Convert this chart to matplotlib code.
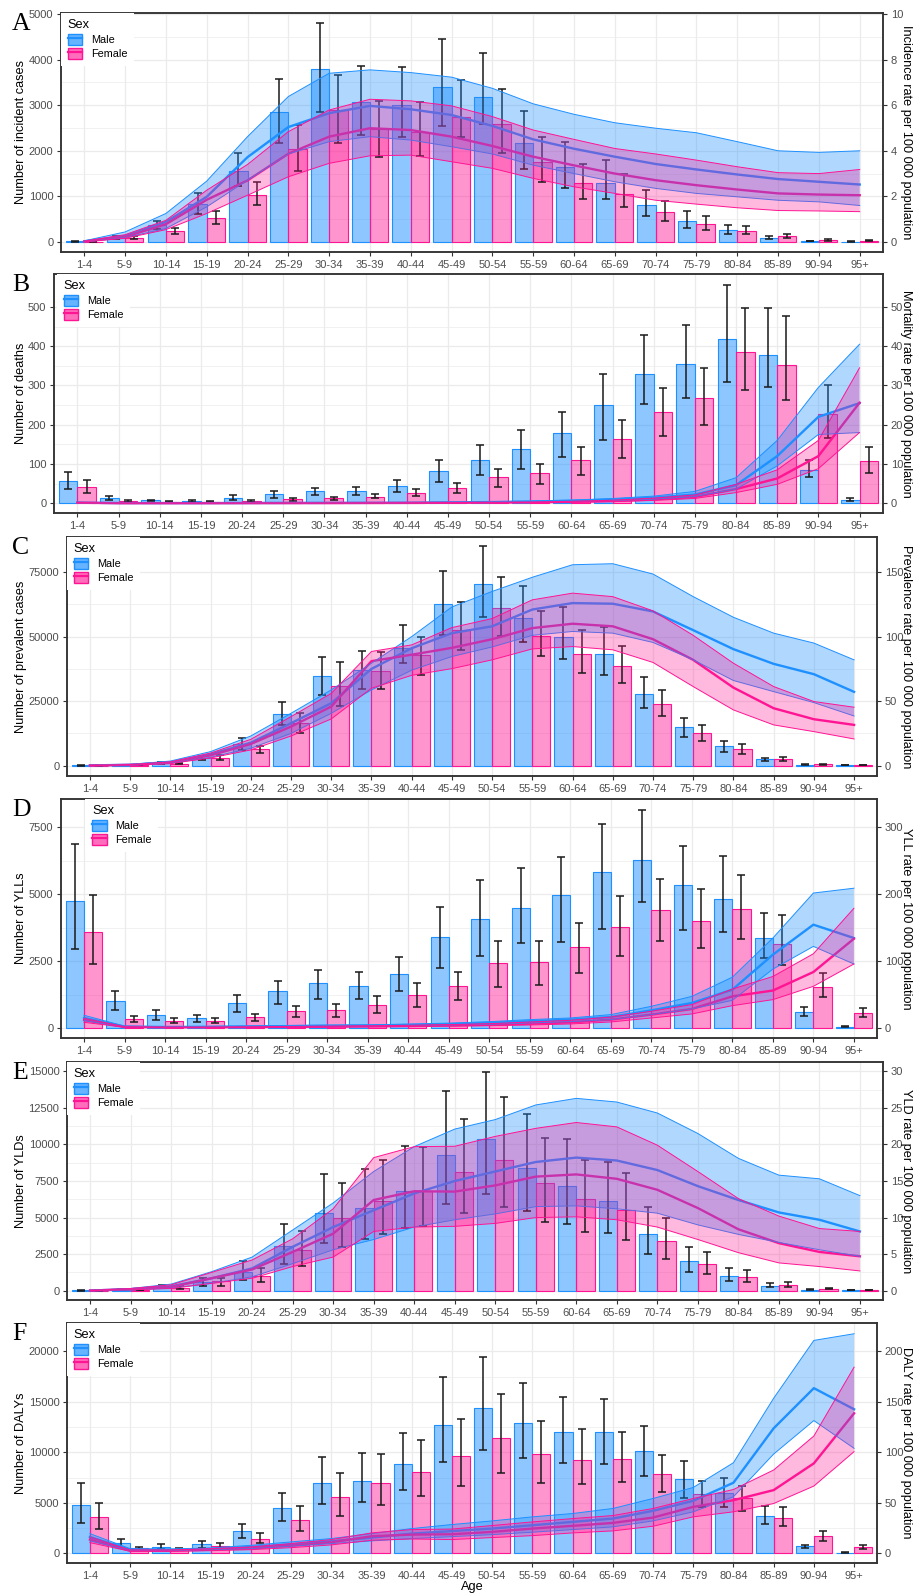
import matplotlib
matplotlib.use("Agg")
import matplotlib.pyplot as plt
from matplotlib.patches import Patch
from matplotlib.lines import Line2D
from matplotlib.legend_handler import HandlerTuple
import numpy as np

plt.rcParams['font.family'] = ['Liberation Sans', 'DejaVu Sans']

AGES = ['1-4', '5-9', '10-14', '15-19', '20-24', '25-29', '30-34', '35-39', '40-44', '45-49',
        '50-54', '55-59', '60-64', '65-69', '70-74', '75-79', '80-84', '85-89', '90-94', '95+']

# ---------------- A: incidence ----------------
inc_m = [15, 80, 370, 830, 1560, 2840, 3790, 3070, 3010, 3400, 3170, 2180, 1650, 1300, 800, 450, 255, 95, 22, 10]
inc_m_lo = [8, 55, 280, 620, 1220, 2170, 2860, 2340, 2310, 2540, 2580, 1590, 1180, 940, 560, 300, 170, 60, 15, 5]
inc_m_hi = [25, 120, 470, 1070, 1960, 3570, 4800, 3860, 3840, 4450, 4150, 2870, 2200, 1800, 1150, 680, 370, 140, 30, 15]
inc_f = [10, 90, 230, 530, 1040, 2040, 2900, 2480, 2420, 2740, 2590, 1760, 1300, 1060, 660, 390, 250, 130, 44, 25]
inc_f_lo = [5, 60, 165, 400, 810, 1560, 2180, 1870, 1880, 2300, 1960, 1310, 940, 770, 460, 270, 175, 80, 30, 18]
inc_f_hi = [15, 120, 310, 690, 1320, 2560, 3660, 3090, 3070, 3560, 3360, 2300, 1720, 1500, 900, 560, 350, 180, 60, 35]
inc_rate_m = [0.03, 0.26, 0.88, 1.98, 3.72, 5.04, 5.65, 5.97, 5.82, 5.57, 5.09, 4.5, 4.09, 3.74, 3.42, 3.18, 2.96, 2.76, 2.64, 2.52]
inc_rate_m_lo = [0.01, 0.19, 0.59, 1.54, 2.71, 3.86, 4.4, 4.62, 4.47, 4.18, 3.86, 3.37, 3.0, 2.64, 2.35, 2.13, 1.98, 1.83, 1.76, 1.6]
inc_rate_m_hi = [0.05, 0.44, 1.25, 2.67, 4.62, 6.38, 7.4, 7.55, 7.43, 7.23, 6.74, 6.06, 5.6, 5.23, 4.99, 4.79, 4.4, 4.0, 3.93, 4.0]
inc_rate_f = [0.02, 0.22, 0.78, 1.85, 2.7, 3.87, 4.62, 4.99, 4.91, 4.62, 4.21, 3.74, 3.36, 3.0, 2.71, 2.49, 2.3, 2.13, 2.08, 2.05]
inc_rate_f_lo = [0.01, 0.16, 0.54, 1.25, 2.05, 2.86, 3.45, 3.78, 3.81, 3.52, 3.23, 2.79, 2.42, 2.13, 1.83, 1.66, 1.5, 1.38, 1.36, 1.33]
inc_rate_f_hi = [0.04, 0.32, 0.95, 2.27, 3.4, 4.84, 5.79, 6.26, 6.19, 5.97, 5.5, 4.91, 4.5, 4.1, 3.86, 3.59, 3.3, 3.04, 3.0, 3.18]

# ---------------- B: deaths ----------------
death_m = [56, 12, 7, 6, 14, 23, 30, 31, 44, 82, 110, 138, 179, 250, 330, 355, 418, 378, 85, 9]
death_m_lo = [35, 8, 5, 4, 9, 14, 20, 21, 28, 54, 73, 87, 117, 160, 253, 267, 309, 297, 68, 6]
death_m_hi = [80, 18, 9, 8, 22, 30, 39, 42, 58, 109, 149, 186, 232, 328, 428, 453, 557, 497, 111, 14]
death_f = [42, 5, 4, 3.4, 6, 10, 12, 17, 27, 38, 67, 77, 110, 163, 232, 267, 385, 353, 226, 107]
death_f_lo = [26, 3, 3, 2.5, 4, 6, 8, 12, 18, 27, 42, 50, 73, 115, 170, 199, 289, 264, 166, 76]
death_f_hi = [58, 7, 6, 4.5, 8, 14, 16, 23, 36, 51, 88, 101, 143, 212, 294, 345, 497, 478, 300, 143]
mort_rate_m = [0.15, 0.03, 0.02, 0.02, 0.04, 0.06, 0.08, 0.09, 0.12, 0.2, 0.28, 0.4, 0.6, 0.9, 1.4, 2.2, 4.6, 12, 22, 25.5]
mort_rate_m_lo = [0.09, 0.02, 0.01, 0.01, 0.03, 0.04, 0.05, 0.06, 0.08, 0.14, 0.2, 0.28, 0.42, 0.65, 1.0, 1.7, 3.6, 9.5, 17.5, 18]
mort_rate_m_hi = [0.22, 0.05, 0.03, 0.03, 0.06, 0.08, 0.11, 0.12, 0.16, 0.27, 0.38, 0.55, 0.8, 1.2, 1.8, 3.0, 6.5, 16, 29.5, 40.5]
mort_rate_f = [0.12, 0.01, 0.01, 0.01, 0.02, 0.03, 0.03, 0.05, 0.07, 0.1, 0.18, 0.22, 0.35, 0.55, 0.95, 1.6, 3.6, 6.3, 12, 25.6]
mort_rate_f_lo = [0.07, 0.01, 0.005, 0.005, 0.01, 0.02, 0.02, 0.03, 0.05, 0.07, 0.12, 0.15, 0.24, 0.4, 0.7, 1.2, 2.7, 4.8, 8.8, 18]
mort_rate_f_hi = [0.18, 0.02, 0.015, 0.015, 0.03, 0.04, 0.05, 0.07, 0.1, 0.14, 0.25, 0.3, 0.47, 0.75, 1.3, 2.1, 4.8, 8.5, 16, 34.5]

# ---------------- C: prevalence ----------------
prev_m = [100, 300, 1100, 2900, 8400, 19900, 34700, 37000, 45500, 62600, 70400, 57200, 49800, 43300, 27900, 14900, 7500, 2460, 390, 130]
prev_m_lo = [60, 200, 800, 2300, 6100, 15800, 27400, 29800, 39900, 50700, 57600, 47900, 41300, 35300, 22200, 11300, 5400, 1810, 280, 90]
prev_m_hi = [150, 420, 1500, 3600, 10600, 24600, 42200, 44600, 54400, 75500, 85000, 69500, 61400, 53700, 34500, 18500, 9400, 3100, 500, 180]
prev_f = [50, 250, 780, 3000, 6300, 16700, 31000, 36800, 42700, 52600, 60900, 50300, 43200, 38700, 23900, 12500, 6300, 2500, 520, 130]
prev_f_lo = [30, 170, 560, 2200, 4800, 12500, 23300, 29800, 35000, 44900, 50300, 42500, 35800, 31900, 19400, 9700, 4500, 1800, 400, 100]
prev_f_hi = [80, 350, 1050, 4100, 7800, 20600, 40000, 43900, 50000, 63600, 73100, 60100, 52600, 46400, 29400, 15800, 8400, 3200, 660, 170]
prev_rate_m = [0.2, 0.7, 2.6, 8.8, 17.8, 32.9, 48.4, 75, 91, 102.7, 108, 121, 126, 125.5, 119.5, 105, 90.3, 78.9, 70.9, 57.2]
prev_rate_m_lo = [0.1, 0.5, 1.8, 6.5, 13.5, 25, 40.6, 58.7, 74, 84.6, 92, 101, 104, 102.7, 95.5, 82, 66, 57.4, 48.9, 38.5]
prev_rate_m_hi = [0.3, 1.0, 3.6, 10.9, 23, 40.6, 58.7, 79.4, 100, 123, 135, 146, 155.7, 156.5, 148.5, 131, 115, 102.7, 95, 82]
prev_rate_f = [0.15, 0.6, 2.3, 8.0, 16.8, 30.3, 45.8, 81, 86, 91.3, 98, 106.6, 110, 108, 98, 82, 60.5, 44.5, 36, 31.6]
prev_rate_f_lo = [0.1, 0.45, 1.6, 6.0, 12.2, 23, 36.2, 60, 70, 75.2, 82, 90.5, 92.3, 89.8, 80, 61.3, 43.2, 31.6, 26.4, 20.7]
prev_rate_f_hi = [0.25, 0.9, 3.0, 9.8, 20.4, 38, 56, 88.5, 93.6, 107, 114, 128.5, 133.7, 131, 120, 101, 79.4, 61.3, 49.7, 45.3]

# ---------------- D: YLLs ----------------
yll_m = [4730, 1000, 490, 360, 930, 1370, 1670, 1580, 2020, 3400, 4090, 4470, 4960, 5820, 6270, 5330, 4830, 3360, 600, 50]
yll_m_lo = [2960, 660, 310, 220, 610, 900, 1080, 1070, 1370, 2230, 2680, 3160, 3210, 3700, 4710, 3650, 3570, 2620, 460, 30]
yll_m_hi = [6890, 1370, 660, 500, 1230, 1770, 2170, 2100, 2650, 4530, 5540, 5980, 6390, 7640, 8160, 6820, 6430, 4300, 790, 70]
yll_f = [3590, 350, 270, 250, 400, 620, 670, 860, 1230, 1560, 2430, 2470, 3030, 3770, 4400, 4010, 4460, 3140, 1530, 550]
yll_f_lo = [2390, 240, 190, 175, 270, 400, 420, 560, 785, 1060, 1520, 1620, 2050, 2680, 3240, 2990, 3340, 2340, 1150, 410]
yll_f_hi = [4960, 460, 360, 360, 520, 830, 880, 1180, 1700, 2090, 3260, 3260, 3920, 4950, 5580, 5190, 5730, 4210, 2060, 750]
yll_rate_m = [15, 2.0, 1.5, 1.7, 2.2, 2.8, 3.3, 3.6, 4.5, 5.5, 7.5, 10, 12.5, 16.4, 26.4, 37.4, 57.3, 109.6, 154.5, 134.5]
yll_rate_m_lo = [11, 1.5, 1.1, 1.2, 1.6, 2.0, 2.4, 2.6, 3.2, 4.0, 5.5, 7.5, 9.5, 12.5, 20, 28.4, 41.4, 88, 122, 95.7]
yll_rate_m_hi = [19, 2.8, 2.0, 2.3, 3.0, 3.7, 4.3, 4.7, 5.9, 7.3, 9.5, 12.5, 15, 20, 32.4, 47.3, 76, 134.5, 201.8, 209]
yll_rate_f = [12, 1.5, 1.1, 1.1, 1.3, 1.7, 2.0, 2.5, 3.0, 3.8, 4.8, 6.5, 8.5, 12.5, 20, 28.4, 47.3, 56, 83.7, 133.5]
yll_rate_f_lo = [8.5, 1.1, 0.8, 0.8, 0.9, 1.2, 1.4, 1.8, 2.2, 2.8, 3.4, 4.5, 6, 9, 15, 21, 33.4, 42.4, 62.3, 95.7]
yll_rate_f_hi = [14.5, 2.0, 1.5, 1.5, 1.8, 2.3, 2.7, 3.3, 4.0, 5.0, 6.4, 9, 11.5, 16.4, 25, 35, 58.3, 77, 111, 179]

# ---------------- E: YLDs ----------------
yld_m = [20, 60, 270, 570, 1300, 3070, 5330, 5620, 6830, 9310, 10400, 8400, 7150, 6150, 3870, 2050, 1020, 340, 68, 23]
yld_m_lo = [10, 40, 180, 330, 750, 1840, 3230, 3500, 4260, 5960, 6600, 5440, 4550, 3920, 2480, 1300, 680, 230, 50, 15]
yld_m_hi = [30, 90, 380, 840, 2000, 4550, 8010, 8350, 9900, 13660, 14950, 12110, 10380, 8810, 5690, 3000, 1520, 500, 90, 30]
yld_f = [10, 40, 205, 680, 1000, 2780, 4940, 6150, 6830, 8130, 8970, 7330, 6240, 5510, 3410, 1800, 960, 390, 137, 46]
yld_f_lo = [5, 25, 140, 320, 615, 1680, 3000, 3900, 4420, 5280, 5690, 4710, 3980, 3460, 2160, 1115, 615, 230, 95, 30]
yld_f_hi = [15, 60, 290, 840, 1570, 4070, 7330, 8970, 9830, 11750, 13250, 10450, 8920, 8060, 4940, 2660, 1410, 570, 180, 60]
yld_rate_m = [0.02, 0.2, 0.6, 1.7, 3.05, 6.0, 8.7, 11.0, 13.3, 15.0, 16.3, 17.6, 18.2, 17.8, 16.5, 14.3, 12.4, 10.7, 9.7, 8.1]
yld_rate_m_lo = [0.01, 0.1, 0.35, 1.0, 1.9, 3.7, 5.6, 7.0, 8.7, 9.7, 10.5, 11.5, 11.6, 11.2, 10.6, 9.0, 7.7, 6.6, 5.6, 4.7]
yld_rate_m_hi = [0.04, 0.3, 0.9, 2.6, 4.6, 8.3, 12.0, 16.3, 19.7, 22.1, 23.4, 25.4, 26.3, 25.8, 24.3, 21.5, 18.1, 15.8, 15.3, 13.0]
yld_rate_f = [0.02, 0.2, 0.5, 1.7, 2.9, 5.3, 7.8, 12.4, 13.6, 13.55, 14.4, 15.6, 15.9, 15.3, 13.8, 11.3, 8.4, 6.5, 5.3, 4.7]
yld_rate_f_lo = [0.01, 0.12, 0.3, 1.0, 1.7, 3.3, 4.6, 8.1, 8.7, 8.8, 9.2, 10.0, 10.1, 9.7, 8.7, 7.0, 5.2, 3.8, 3.3, 2.7]
yld_rate_f_hi = [0.03, 0.3, 0.8, 2.5, 4.2, 7.1, 11.2, 18.2, 19.7, 19.75, 21.1, 22.2, 23.0, 22.4, 19.9, 16.3, 12.6, 10.2, 8.5, 8.1]

# ---------------- F: DALYs ----------------
daly_m = [4770, 1030, 630, 890, 2220, 4440, 6990, 7190, 8840, 12720, 14440, 12880, 12050, 11990, 10130, 7380, 5930, 3680, 700, 66]
daly_m_lo = [3010, 560, 400, 560, 1560, 3180, 4870, 5070, 6260, 9070, 10230, 9470, 8970, 8840, 7680, 5500, 4600, 2950, 530, 40]
daly_m_hi = [6920, 1460, 960, 1230, 2950, 5990, 9570, 9900, 11890, 17420, 19440, 16850, 15460, 15270, 12650, 9140, 7480, 4670, 860, 90]
daly_f = [3610, 500, 430, 760, 1460, 3340, 5600, 6990, 8080, 9670, 11390, 9800, 9240, 9300, 7820, 5830, 5430, 3510, 1690, 630]
daly_f_lo = [2420, 360, 330, 530, 1030, 2220, 3680, 4740, 5660, 6660, 7980, 6990, 6820, 7020, 6090, 4540, 4210, 2680, 1190, 430]
daly_f_hi = [5000, 630, 530, 1060, 2020, 4670, 7980, 9830, 11230, 13280, 15760, 13110, 12290, 12050, 9740, 7150, 6660, 4600, 2220, 800]
daly_rate_m = [16.2, 3.6, 3.3, 4.3, 6.3, 8.9, 11.9, 15.6, 19.5, 22.0, 24.5, 27.8, 31.1, 34.4, 42.1, 52.0, 69.9, 123.8, 163.6, 142.7]
daly_rate_m_lo = [12.3, 2.6, 2.6, 3.3, 4.6, 7.0, 9.6, 12.3, 14.6, 16.5, 18.5, 20.9, 23.5, 26.2, 32.1, 41.1, 56.0, 98.3, 131.5, 104]
daly_rate_m_hi = [19.5, 4.6, 4.3, 5.3, 7.9, 11.3, 14.6, 19.5, 24.5, 28.5, 32.1, 36.1, 39.4, 44.4, 54.3, 65.2, 89.7, 153.6, 210.9, 217.5]
daly_rate_f = [13.6, 2.6, 2.6, 3.6, 5.0, 7.6, 10.9, 16.9, 18.5, 18.9, 21.2, 24.5, 27.2, 30.1, 35.4, 46.0, 52.6, 62.6, 89.1, 138.7]
daly_rate_f_lo = [10.6, 2.0, 2.0, 2.6, 3.6, 5.6, 8.3, 12.9, 14.2, 13.6, 15.6, 17.5, 20.2, 22.2, 26.8, 36.1, 41.1, 49.3, 66.6, 100.7]
daly_rate_f_hi = [16.2, 3.3, 3.3, 4.6, 6.3, 9.6, 13.6, 20.2, 23.5, 24.0, 27.5, 31.1, 34.4, 37.4, 44.4, 54.3, 63.2, 82.5, 116.2, 184.4]

PANELS = [
    dict(letter='A', num=(inc_m, inc_m_lo, inc_m_hi, inc_f, inc_f_lo, inc_f_hi),
         rate=(inc_rate_m, inc_rate_m_lo, inc_rate_m_hi, inc_rate_f, inc_rate_f_lo, inc_rate_f_hi),
         ylabel='Number of incident cases', rlabel='Incidence rate per 100 000 population',
         ylim=(-220, 5022), yticks=[0, 1000, 2000, 3000, 4000, 5000], k=500,
         rticks=[0, 2, 4, 6, 8, 10], box=(61, 13, 883, 252), leg_dx=0.0),
    dict(letter='B', num=(death_m, death_m_lo, death_m_hi, death_f, death_f_lo, death_f_hi),
         rate=(mort_rate_m, mort_rate_m_lo, mort_rate_m_hi, mort_rate_f, mort_rate_f_lo, mort_rate_f_hi),
         ylabel='Number of deaths', rlabel='Mortality rate per 100 000 population',
         ylim=(-25, 584), yticks=[0, 100, 200, 300, 400, 500], k=10,
         rticks=[0, 10, 20, 30, 40, 50], box=(54, 274, 883, 513), leg_dx=0.004),
    dict(letter='C', num=(prev_m, prev_m_lo, prev_m_hi, prev_f, prev_f_lo, prev_f_hi),
         rate=(prev_rate_m, prev_rate_m_lo, prev_rate_m_hi, prev_rate_f, prev_rate_f_lo, prev_rate_f_hi),
         ylabel='Number of prevalent cases', rlabel='Prevalence rate per 100 000 population',
         ylim=(-4000, 88600), yticks=[0, 25000, 50000, 75000], k=500,
         rticks=[0, 50, 100, 150], box=(67, 537, 877, 776), leg_dx=0.0),
    dict(letter='D', num=(yll_m, yll_m_lo, yll_m_hi, yll_f, yll_f_lo, yll_f_hi),
         rate=(yll_rate_m, yll_rate_m_lo, yll_rate_m_hi, yll_rate_f, yll_rate_f_lo, yll_rate_f_hi),
         ylabel='Number of YLLs', rlabel='YLL rate per 100 000 population',
         ylim=(-374, 8560), yticks=[0, 2500, 5000, 7500], k=25,
         rticks=[0, 100, 200, 300], box=(61, 799, 877, 1038), leg_dx=0.03),
    dict(letter='E', num=(yld_m, yld_m_lo, yld_m_hi, yld_f, yld_f_lo, yld_f_hi),
         rate=(yld_rate_m, yld_rate_m_lo, yld_rate_m_hi, yld_rate_f, yld_rate_f_lo, yld_rate_f_hi),
         ylabel='Number of YLDs', rlabel='YLD rate per 100 000 population',
         ylim=(-637, 15637), yticks=[0, 2500, 5000, 7500, 10000, 12500, 15000], k=500,
         rticks=[0, 5, 10, 15, 20, 25, 30], box=(67, 1062, 883, 1300), leg_dx=0.0),
    dict(letter='F', num=(daly_m, daly_m_lo, daly_m_hi, daly_f, daly_f_lo, daly_f_hi),
         rate=(daly_rate_m, daly_rate_m_lo, daly_rate_m_hi, daly_rate_f, daly_rate_f_lo, daly_rate_f_hi),
         ylabel='Number of DALYs', rlabel='DALY rate per 100 000 population',
         ylim=(-960, 22815), yticks=[0, 5000, 10000, 15000, 20000], k=100,
         rticks=[0, 50, 100, 150, 200], box=(67, 1323, 877, 1563), leg_dx=0.0),
]

BLUE = '#1E90FF'
PINK = '#FF1493'
GRID = '#EBEBEB'
DARK = '#333333'
TICKC = '#4D4D4D'

W, H = 914, 1593
fig = plt.figure(figsize=(W / 100, H / 100), dpi=100)

x = np.arange(len(AGES))
bw = 0.45

for p in PANELS:
    l, t, r, b = p['box']
    ax = fig.add_axes([l / W, 1 - b / H, (r - l) / W, (b - t) / H])
    m, mlo, mhi, f, flo, fhi = [np.array(v, dtype=float) for v in p['num']]
    rm, rmlo, rmhi, rf, rflo, rfhi = [np.array(v, dtype=float) for v in p['rate']]

    ax.set_axisbelow(True)
    ax.bar(x - bw / 2, m, bw, color=BLUE, alpha=0.5, linewidth=0, zorder=2)
    ax.bar(x - bw / 2, m, bw, facecolor='none', edgecolor=BLUE, linewidth=0.8, zorder=2)
    ax.bar(x + bw / 2, f, bw, color=PINK, alpha=0.45, linewidth=0, zorder=2)
    ax.bar(x + bw / 2, f, bw, facecolor='none', edgecolor=PINK, linewidth=0.8, zorder=2)
    ax.errorbar(x - bw / 2, m, yerr=[m - mlo, mhi - m], fmt='none', ecolor='#1A1A1A',
                elinewidth=1.1, capsize=2.8, capthick=1.1, zorder=3)
    ax.errorbar(x + bw / 2, f, yerr=[f - flo, fhi - f], fmt='none', ecolor='#1A1A1A',
                elinewidth=1.1, capsize=2.8, capthick=1.1, zorder=3)

    ax.set_xlim(-0.57, len(AGES) - 1 + 0.57)
    ax.set_ylim(*p['ylim'])
    ax.set_xticks(x)
    ax.set_xticklabels(AGES)
    ax.set_yticks(p['yticks'])
    ax.set_yticklabels([str(v) for v in p['yticks']])
    yt = p['yticks']
    minors = [(yt[i] + yt[i + 1]) / 2 for i in range(len(yt) - 1)]
    ax.set_yticks(minors, minor=True)
    ax.grid(which='major', color=GRID, linewidth=0.9)
    ax.grid(which='minor', axis='y', color=GRID, linewidth=0.5)
    ax.tick_params(which='minor', length=0)
    ax.tick_params(which='major', length=3, width=0.8, color=DARK, labelsize=8,
                   labelcolor=TICKC, pad=2.5)

    ax2 = ax.twinx()
    k = p['k']
    ax2.set_ylim(p['ylim'][0] / k, p['ylim'][1] / k)
    ax2.set_yticks(p['rticks'])
    ax2.set_yticklabels([str(v) for v in p['rticks']])
    ax2.tick_params(which='major', length=3, width=0.8, color=DARK, labelsize=8,
                    labelcolor=TICKC, pad=2.5)
    # mean lines (under ribbons)
    ax2.plot(x, rm, color=BLUE, linewidth=1.7, zorder=2)
    ax2.plot(x, rf, color=PINK, linewidth=1.7, zorder=2)
    # male ribbon
    ax2.fill_between(x, rmlo, rmhi, facecolor=BLUE, alpha=0.35, linewidth=0, zorder=3)
    ax2.plot(x, rmlo, color=BLUE, linewidth=0.7, zorder=3)
    ax2.plot(x, rmhi, color=BLUE, linewidth=0.7, zorder=3)
    # female ribbon
    ax2.fill_between(x, rflo, rfhi, facecolor=PINK, alpha=0.3, linewidth=0, zorder=4)
    ax2.plot(x, rflo, color=PINK, linewidth=0.7, zorder=4)
    ax2.plot(x, rfhi, color=PINK, linewidth=0.7, zorder=4)

    for a in (ax, ax2):
        for s in a.spines.values():
            s.set_color(DARK)
            s.set_linewidth(1.1)

    hm = (Patch(facecolor=BLUE, alpha=0.5, edgecolor='none'),
          Patch(facecolor=BLUE, alpha=0.35, edgecolor='none'),
          Patch(facecolor='none', edgecolor=BLUE, linewidth=1.0),
          Line2D([0, 1], [0, 0], color=BLUE, linewidth=1.6))
    hf = (Patch(facecolor=PINK, alpha=0.45, edgecolor='none'),
          Patch(facecolor=PINK, alpha=0.3, edgecolor='none'),
          Patch(facecolor='none', edgecolor=PINK, linewidth=1.0),
          Line2D([0, 1], [0, 0], color=PINK, linewidth=1.6))
    leg = ax2.legend([hm, hf], ['Male', 'Female'], title='Sex',
                     handler_map={tuple: HandlerTuple(ndivide=1, pad=0)},
                     loc='upper left', bbox_to_anchor=(p['leg_dx'], 1.0), borderaxespad=0,
                     frameon=True, fancybox=False, facecolor='white', edgecolor='none',
                     framealpha=1.0, fontsize=7.8, title_fontsize=9.2,
                     handlelength=1.35, handleheight=1.3, labelspacing=0.2,
                     handletextpad=0.8, borderpad=0.6, alignment='left')
    leg.set_zorder(10)

    # axis titles
    cy = 1 - ((t + b) / 2) / H
    fig.text(21.5 / W, cy, p['ylabel'], rotation=90, ha='center', va='center', fontsize=9.2)
    fig.text(906 / W, cy, p['rlabel'], rotation=270, ha='center', va='center', fontsize=9.2)
    # panel letter
    fig.text(12 / W, 1 - (t + 17) / H, p['letter'], fontsize=18.5,
             family=['Liberation Serif', 'DejaVu Serif'], ha='left', va='baseline')

fig.text(472 / W, 1 - 1587 / H, 'Age', ha='center', va='center', fontsize=9.2)

fig.savefig('out.png', dpi=100)
